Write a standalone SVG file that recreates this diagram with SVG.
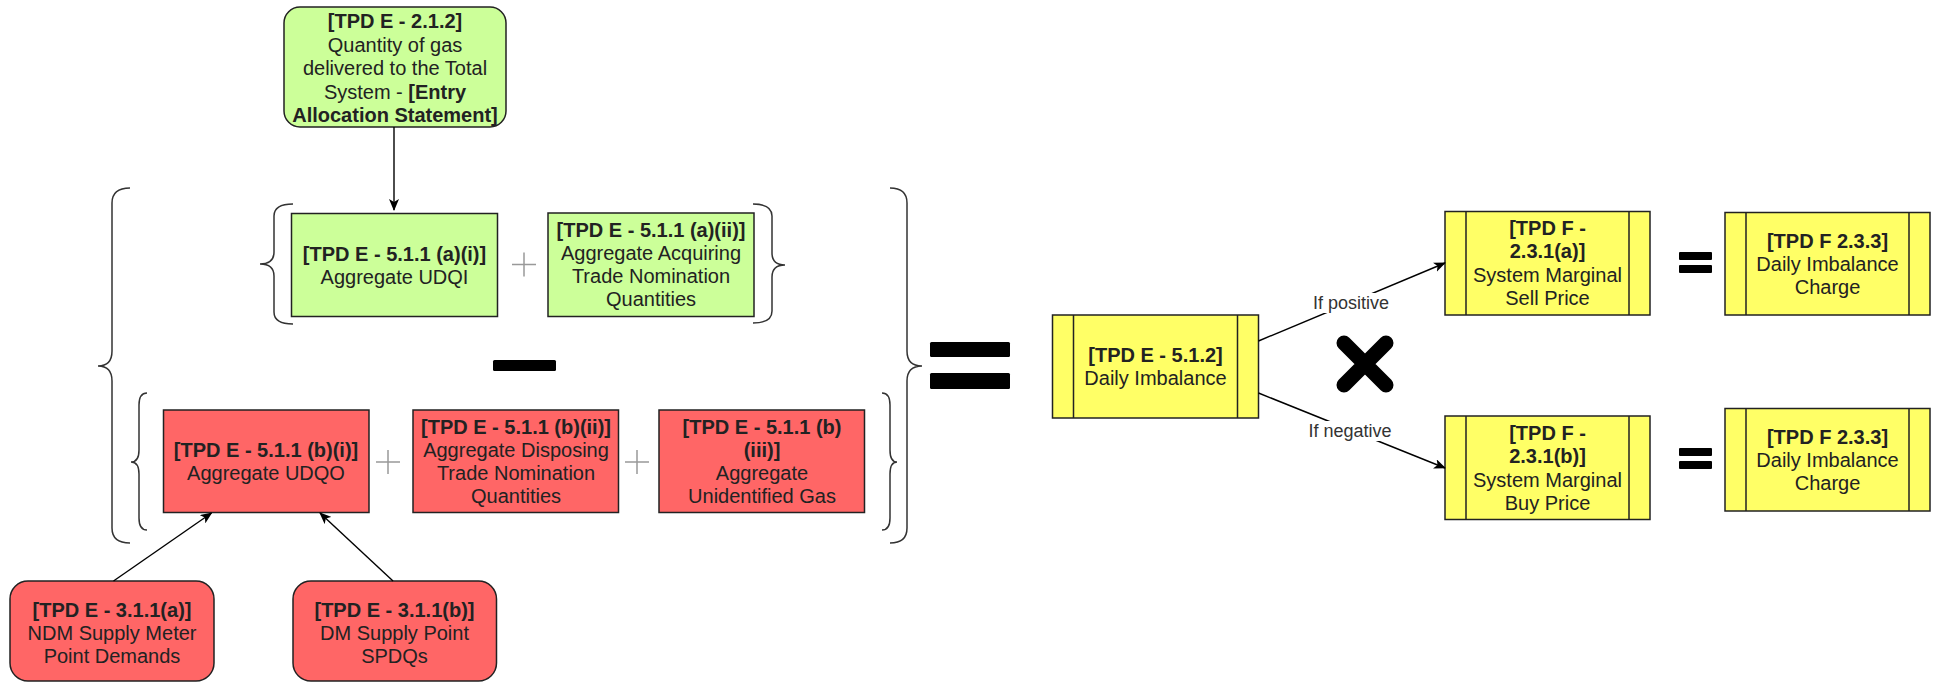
<svg xmlns="http://www.w3.org/2000/svg" width="1939" height="683" viewBox="0 0 1939 683">
  <defs>
    <marker id="arr" viewBox="0 0 12 10" refX="11" refY="5" markerWidth="12" markerHeight="10" markerUnits="userSpaceOnUse" orient="auto">
      <path d="M0,0 L12,5 L0,10 L3,5 Z" fill="#000"/>
    </marker>
    <style>
      .box { stroke: #222; stroke-width: 1.5; }
      .green { fill: #ccff99; }
      .red { fill: #ff6666; }
      .yellow { fill: #ffff66; }
      .side { stroke: #222; stroke-width: 1.5; fill: none; }
      .t { font-family: "Liberation Sans", Arial, sans-serif; font-size: 20px; fill: #222; text-anchor: middle; }
      .b { font-weight: bold; }
      .lbl { font-family: "Liberation Sans", Arial, sans-serif; font-size: 18px; fill: #333; text-anchor: middle; }
      .brace { fill: none; stroke: #333; stroke-width: 1.5; }
      .plus { stroke: #999; stroke-width: 1.5; }
      .op { fill: #000; }
      .edge { fill: none; stroke: #000; stroke-width: 1.4; }
    </style>
  </defs>
  <rect width="1939" height="683" fill="#fff"/>

  <!-- source: entry allocation -->
  <g id="entry-allocation">
    <rect class="box green" x="284" y="7" width="222" height="120" rx="16"/>
    <text class="t b" x="395" y="28">[TPD E - 2.1.2]</text>
    <text class="t" x="395" y="51.5">Quantity of gas</text>
    <text class="t" x="395" y="75">delivered to the Total</text>
    <text class="t" x="395" y="98.5">System - <tspan class="b">[Entry</tspan></text>
    <text class="t b" x="395" y="122">Allocation Statement]</text>
  </g>

  <!-- inputs -->
  <g id="udqi">
    <rect class="box green" x="291.5" y="213.5" width="206" height="103"/>
    <text class="t b" x="394.5" y="261">[TPD E - 5.1.1 (a)(i)]</text>
    <text class="t" x="394.5" y="284">Aggregate UDQI</text>
  </g>
  <g id="acquiring-tnq">
    <rect class="box green" x="548" y="213" width="206" height="103.5"/>
    <text class="t b" x="651" y="237">[TPD E - 5.1.1 (a)(ii)]</text>
    <text class="t" x="651" y="260">Aggregate Acquiring</text>
    <text class="t" x="651" y="283">Trade Nomination</text>
    <text class="t" x="651" y="306">Quantities</text>
  </g>

  <!-- outputs -->
  <g id="udqo">
    <rect class="box red" x="163.5" y="410" width="205.5" height="102.5"/>
    <text class="t b" x="266" y="457">[TPD E - 5.1.1 (b)(i)]</text>
    <text class="t" x="266" y="480">Aggregate UDQO</text>
  </g>
  <g id="disposing-tnq">
    <rect class="box red" x="413" y="410" width="205.5" height="102.5"/>
    <text class="t b" x="516" y="434">[TPD E - 5.1.1 (b)(ii)]</text>
    <text class="t" x="516" y="457">Aggregate Disposing</text>
    <text class="t" x="516" y="480">Trade Nomination</text>
    <text class="t" x="516" y="503">Quantities</text>
  </g>
  <g id="unidentified-gas">
    <rect class="box red" x="659" y="410" width="205.5" height="102.5"/>
    <text class="t b" x="762" y="434">[TPD E - 5.1.1 (b)</text>
    <text class="t b" x="762" y="457">(iii)]</text>
    <text class="t" x="762" y="480">Aggregate</text>
    <text class="t" x="762" y="503">Unidentified Gas</text>
  </g>

  <g id="ndm-demands">
    <rect class="box red" x="10" y="581" width="204" height="100" rx="18"/>
    <text class="t b" x="112" y="617">[TPD E - 3.1.1(a)]</text>
    <text class="t" x="112" y="640">NDM Supply Meter</text>
    <text class="t" x="112" y="663">Point Demands</text>
  </g>
  <g id="dm-spdqs">
    <rect class="box red" x="293" y="581" width="203.5" height="100" rx="18"/>
    <text class="t b" x="394.5" y="617">[TPD E - 3.1.1(b)]</text>
    <text class="t" x="394.5" y="640">DM Supply Point</text>
    <text class="t" x="394.5" y="663">SPDQs</text>
  </g>

  <!-- results -->
  <g id="daily-imbalance">
    <rect class="box yellow" x="1052.5" y="315" width="206" height="103"/>
    <path class="side" d="M1073.5,315 V418 M1237.5,315 V418"/>
    <text class="t b" x="1155.5" y="362">[TPD E - 5.1.2]</text>
    <text class="t" x="1155.5" y="385">Daily Imbalance</text>
  </g>
  <g id="sell-price">
    <rect class="box yellow" x="1445" y="211.5" width="205" height="103.5"/>
    <path class="side" d="M1466,211.5 V315 M1629,211.5 V315"/>
    <text class="t b" x="1547.5" y="235">[TPD F -</text>
    <text class="t b" x="1547.5" y="258">2.3.1(a)]</text>
    <text class="t" x="1547.5" y="282">System Marginal</text>
    <text class="t" x="1547.5" y="305">Sell Price</text>
  </g>
  <g id="charge-sell">
    <rect class="box yellow" x="1725" y="212.5" width="205" height="102.5"/>
    <path class="side" d="M1746,212.5 V315 M1909,212.5 V315"/>
    <text class="t b" x="1827.5" y="248">[TPD F 2.3.3]</text>
    <text class="t" x="1827.5" y="271">Daily Imbalance</text>
    <text class="t" x="1827.5" y="294">Charge</text>
  </g>
  <g id="buy-price">
    <rect class="box yellow" x="1445" y="416" width="205" height="103.5"/>
    <path class="side" d="M1466,416 V519.5 M1629,416 V519.5"/>
    <text class="t b" x="1547.5" y="439.5">[TPD F -</text>
    <text class="t b" x="1547.5" y="462.5">2.3.1(b)]</text>
    <text class="t" x="1547.5" y="486.5">System Marginal</text>
    <text class="t" x="1547.5" y="509.5">Buy Price</text>
  </g>
  <g id="charge-buy">
    <rect class="box yellow" x="1725" y="408.5" width="205" height="102.5"/>
    <path class="side" d="M1746,408.5 V511 M1909,408.5 V511"/>
    <text class="t b" x="1827.5" y="444">[TPD F 2.3.3]</text>
    <text class="t" x="1827.5" y="467">Daily Imbalance</text>
    <text class="t" x="1827.5" y="490">Charge</text>
  </g>

  <!-- grouping braces -->
  <g id="braces">
    <path class="brace" d="M130,188 Q112,188 112,203 L112,351 Q112,366 98,366 Q112,366 112,381 L112,528 Q112,543 130,543"/>
    <path class="brace" d="M890,188 Q907,188 907,203 L907,351 Q907,366 922,366 Q907,366 907,381 L907,528 Q907,543 890,543"/>
    <path class="brace" d="M293,204 Q274,204 274,216 L274,252 Q274,264 260,264 Q274,264 274,276 L274,312 Q274,324 293,324"/>
    <path class="brace" d="M753,204 Q772,204 772,216 L772,253 Q772,265 785,265 Q772,265 772,277 L772,311 Q772,323 753,323"/>
    <path class="brace" d="M147,393 Q139,393 139,405 L139,450 Q139,462 131,462 Q139,462 139,474 L139,518 Q139,530 147,530"/>
    <path class="brace" d="M882,393 Q890,393 890,405 L890,450 Q890,462 897,462 Q890,462 890,474 L890,518 Q890,530 882,530"/>
  </g>

  <!-- operators -->
  <g id="operators">
    <path class="plus" d="M512,264.5 H536 M524,252.5 V276.5"/>
    <path class="plus" d="M376,462 H400 M388,450 V474"/>
    <path class="plus" d="M625,462 H649 M637,450 V474"/>
    <rect class="op" x="493" y="360" width="63" height="11" rx="1.5"/>
    <rect class="op" x="930" y="342" width="80" height="15" rx="1.5"/>
    <rect class="op" x="930" y="373" width="80" height="16" rx="1.5"/>
    <path d="M1344,343 L1386,385 M1386,343 L1344,385" stroke="#000" stroke-width="15" stroke-linecap="round"/>
    <rect class="op" x="1679" y="252" width="33" height="8" rx="1"/>
    <rect class="op" x="1679" y="265" width="33" height="8" rx="1"/>
    <rect class="op" x="1679" y="448" width="33" height="8" rx="1"/>
    <rect class="op" x="1679" y="461" width="33" height="8" rx="1"/>
  </g>

  <!-- connectors -->
  <g id="connectors">
    <path class="edge" d="M394,127 V210" marker-end="url(#arr)"/>
    <path class="edge" d="M113.5,581 L211.5,513" marker-end="url(#arr)"/>
    <path class="edge" d="M393,581 L320,513" marker-end="url(#arr)"/>
    <path class="edge" d="M1258.5,341 L1445,263" marker-end="url(#arr)"/>
    <path class="edge" d="M1258.5,393 L1445,468" marker-end="url(#arr)"/>
    <rect x="1310" y="293" width="82" height="20" fill="#fff"/>
    <text class="lbl" x="1351" y="309">If positive</text>
    <rect x="1306" y="421" width="89" height="20" fill="#fff"/>
    <text class="lbl" x="1350" y="437">If negative</text>
  </g>
</svg>
